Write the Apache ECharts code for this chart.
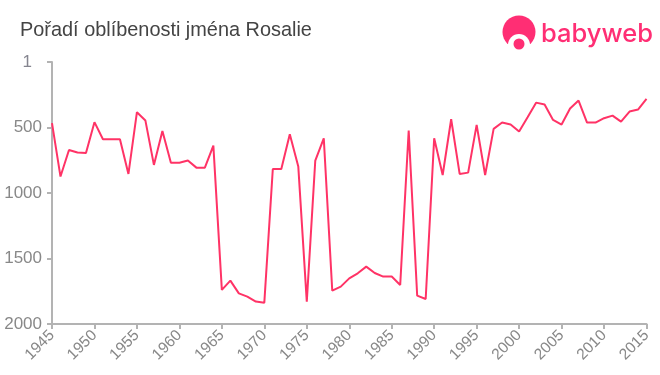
<!DOCTYPE html>
<html>
<head>
<meta charset="utf-8">
<title>Rosalie</title>
<script src="https://cdn.jsdelivr.net/npm/echarts@6/dist/echarts.min.js"></script>
<style>
	html,body{margin:0;padding:0;background:#fff;}
	#chart{width:660px;height:375px;}
</style>
</head>
<body>
<div id="chart"></div>
<script>
var years=[];
for(var y=1945;y<=2015;y++){
	years.push(String(y));
}
var ranks=[468,875,672,692,695,460,590,590,590,855,
	384,448,786,527,769,769,753,807,807,639,
	1740,1669,1766,1791,1829,1837,817,817,552,799,
	1829,753,583,1746,1715,1652,1613,1562,1611,1638,
	1638,1702,524,1784,1809,583,863,438,855,845,
	481,863,511,463,478,532,422,311,326,443,
	478,356,295,463,463,430,410,456,379,364,
	282];
var rankTicks=[1,500,1000,1500,2000];

var pink='#ff3366';
var logoPink='#ff2e74';
var axisGrey='#b3b3b3';
var labelGrey='#888888';

var myChart=echarts.init(document.getElementById('chart'),null,{renderer:'canvas'});
myChart.setOption({
	animation:false,
	backgroundColor:'#fff',
	textStyle:{fontFamily:'"Liberation Sans",Arial,sans-serif'},
	title:{
		text:'Pořadí oblíbenosti jména Rosalie',
		left:20,
		top:21,
		padding:0,
		textStyle:{fontSize:19.9,fontWeight:'normal',color:'#444444',fontFamily:'"Liberation Sans",Arial,sans-serif'}
	},
	grid:{left:52,right:13.5,top:62,bottom:51,containLabel:false},
	xAxis:{
		type:'category',
		data:years,
		boundaryGap:false,
		axisLine:{lineStyle:{color:axisGrey,width:2}},
		axisTick:{interval:4,length:5,lineStyle:{color:axisGrey,width:2}},
		axisLabel:{interval:4,rotate:45,fontSize:15.5,color:labelGrey,margin:9},
		splitLine:{show:false}
	},
	yAxis:{
		type:'value',
		inverse:true,
		min:1,
		max:2000,
		axisLine:{show:true,lineStyle:{color:axisGrey,width:2}},
		axisTick:{show:true,length:5,customValues:rankTicks,lineStyle:{color:axisGrey,width:2}},
		axisLabel:{
			fontSize:17,
			color:labelGrey,
			margin:10,
			customValues:rankTicks,
			formatter:function(value){
				return value===1?'{one|1}':String(value);
			},
			rich:{one:{fontSize:17,color:'#85858f',padding:[0,10,0,0]}}
		},
		splitLine:{show:false}
	},
	series:[{
		type:'line',
		data:ranks,
		showSymbol:false,
		smooth:false,
		lineStyle:{color:pink,width:2},
		itemStyle:{color:pink}
	}],
	graphic:[
		{type:'circle',shape:{cx:519,cy:32,r:16.5},style:{fill:logoPink}},
		{type:'circle',shape:{cx:519,cy:45,r:11},style:{fill:'#fff'}},
		{type:'rect',shape:{x:500,y:44,width:38,height:8},style:{fill:'#fff'}},
		{type:'circle',shape:{cx:519,cy:44,r:5.5},style:{fill:logoPink}},
		{type:'text',style:{x:541,y:21,text:'babyweb',fill:logoPink,fontSize:25.5,fontFamily:'Inter,Lato,sans-serif',fontWeight:500}}
	]
});
</script>
</body>
</html>
